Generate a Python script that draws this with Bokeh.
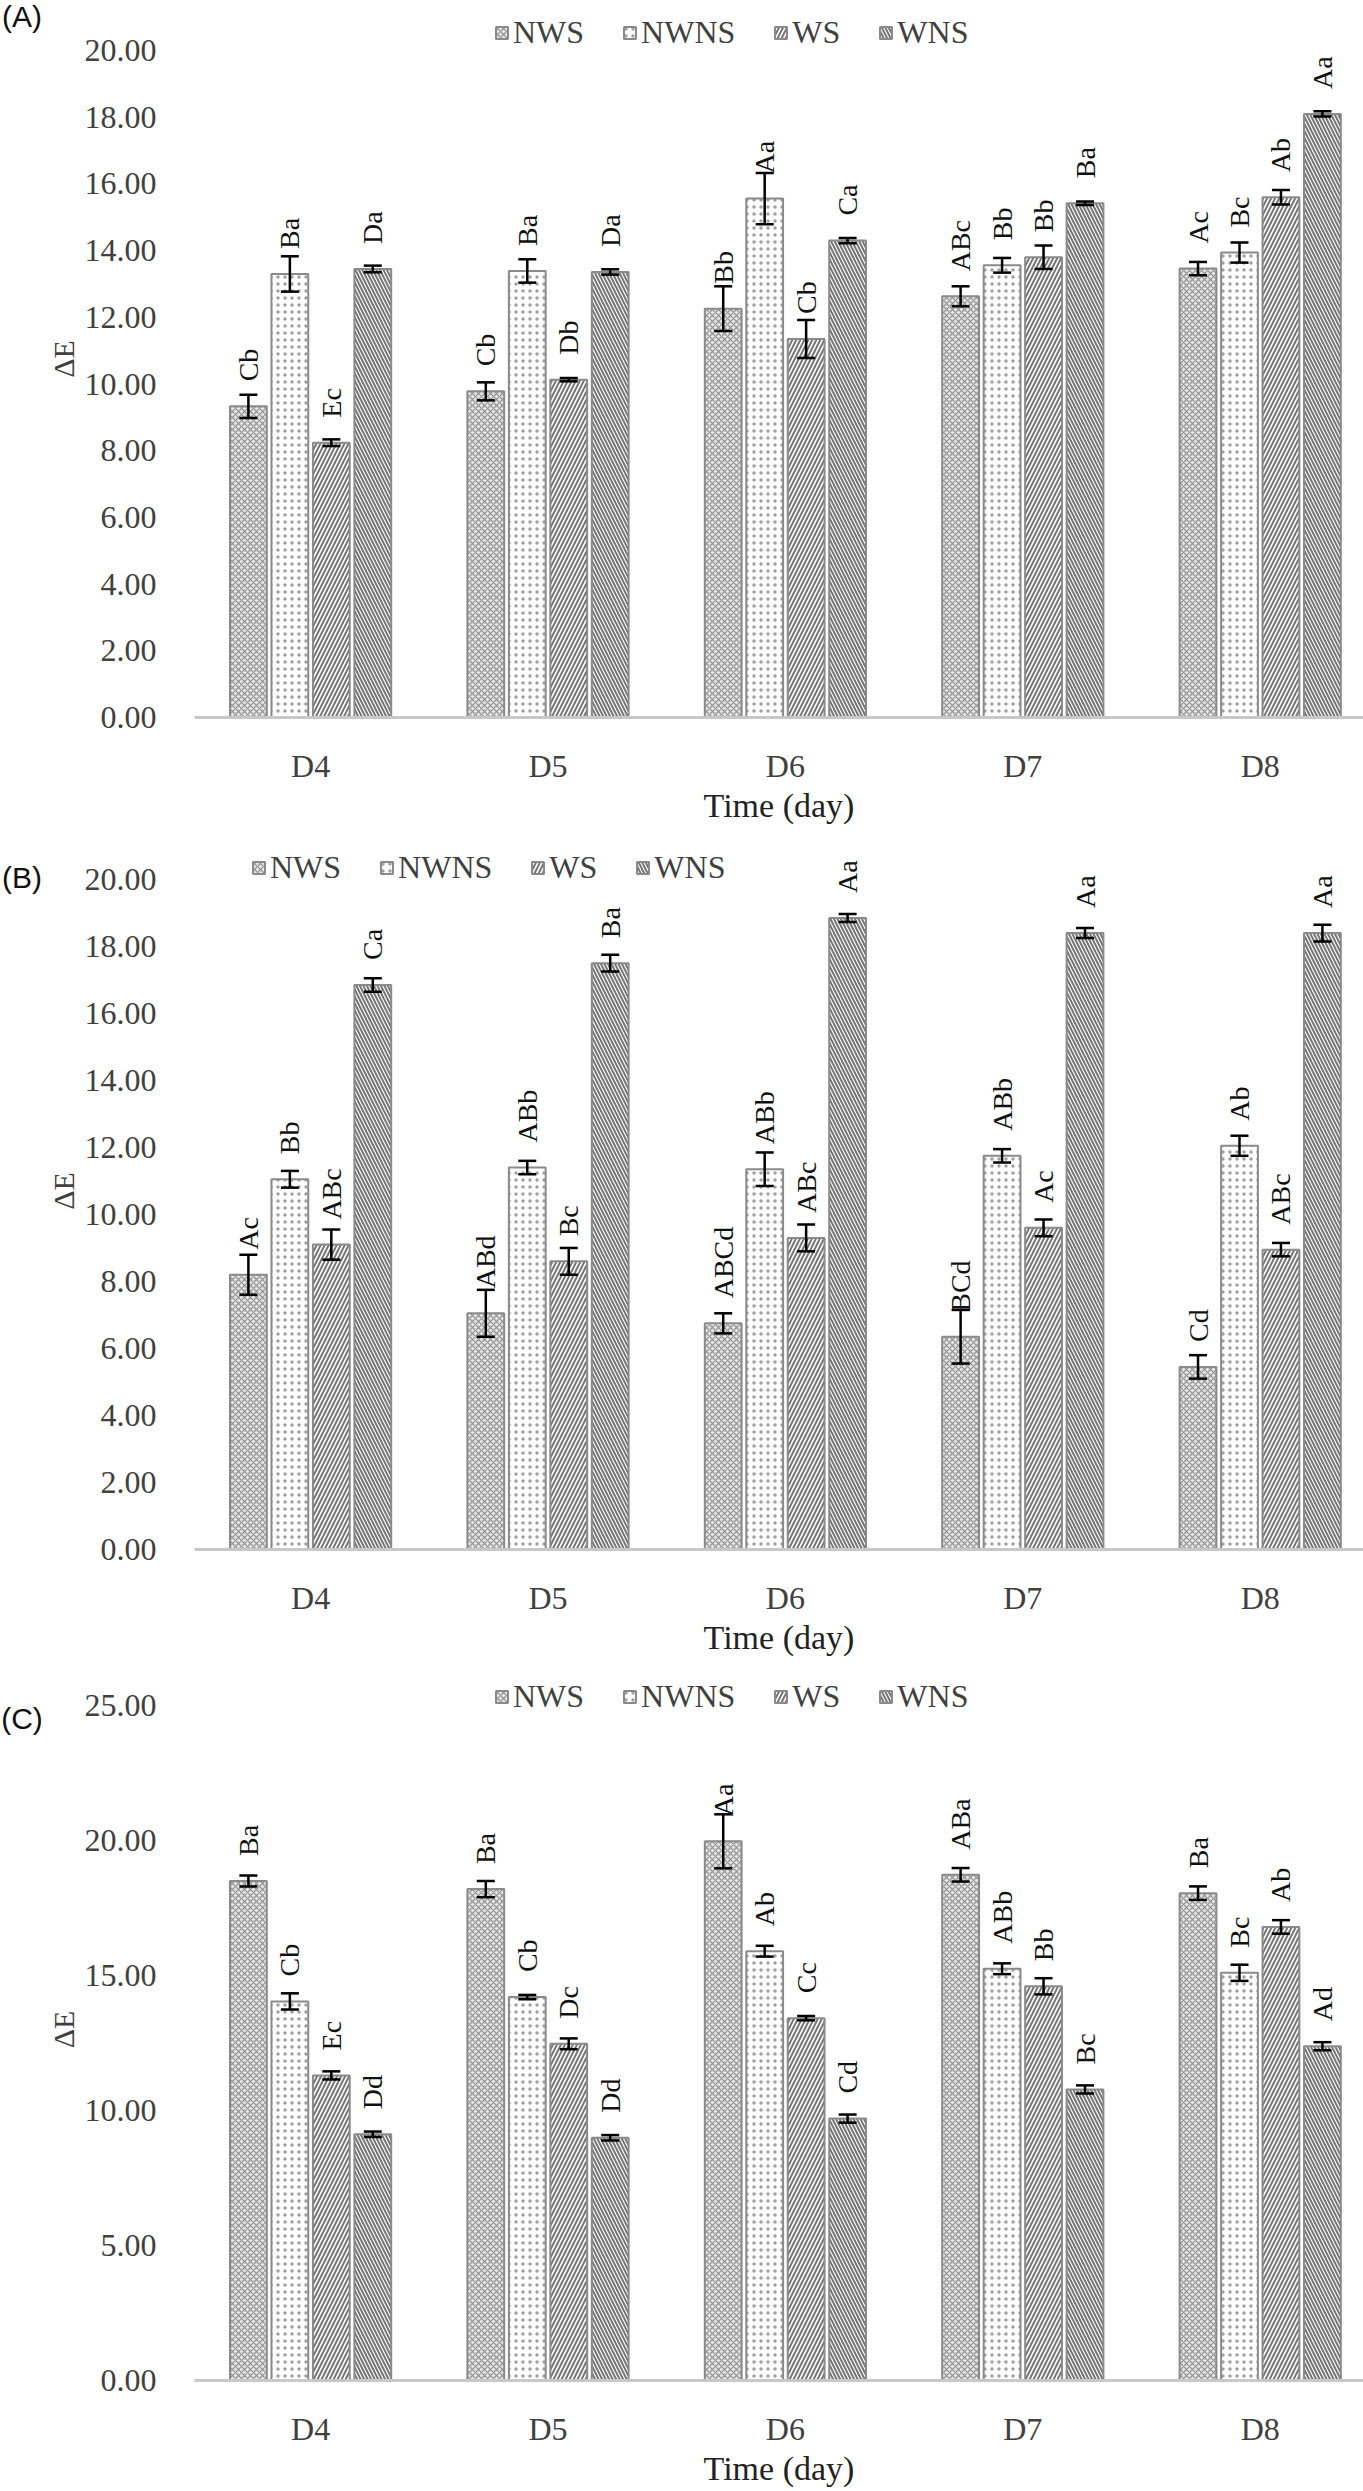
import numpy as np
from bokeh.plotting import figure
from bokeh.models import (ColumnDataSource, Range1d, FixedTicker, NumeralTickFormatter,
                          Whisker, TeeHead, Legend, LegendItem)
from bokeh.layouts import column, row
from bokeh.core.properties import value
from bokeh.embed import file_html
from bokeh.resources import INLINE

categories = ["D4", "D5", "D6", "D7", "D8"]
series_names = ["NWS", "NWNS", "WS", "WNS"]
panel_tags = ["(A)", "(B)", "(C)"]

# ---- Panel A ----
a_nws = [9.33, 9.78, 12.26, 12.63, 13.46]
a_nwns = [13.30, 13.39, 15.56, 13.56, 13.94]
a_ws = [8.24, 10.13, 11.35, 13.80, 15.60]
a_wns = [13.45, 13.36, 14.30, 15.42, 18.10]
a_nws_err = [0.35, 0.27, 0.67, 0.30, 0.20]
a_nwns_err = [0.53, 0.35, 0.77, 0.22, 0.30]
a_ws_err = [0.10, 0.05, 0.57, 0.35, 0.22]
a_wns_err = [0.10, 0.08, 0.08, 0.05, 0.08]
a_nws_lbl = ["Cb", "Cb", "Bb", "ABc", "Ac"]
a_nwns_lbl = ["Ba", "Ba", "Aa", "Bb", "Bc"]
a_ws_lbl = ["Ec", "Db", "Cb", "Bb", "Ab"]
a_wns_lbl = ["Da", "Da", "Ca", "Ba", "Aa"]

# ---- Panel B ----
b_nws = [8.20, 7.05, 6.75, 6.35, 5.45]
b_nwns = [11.05, 11.40, 11.35, 11.75, 12.05]
b_ws = [9.10, 8.60, 9.30, 9.60, 8.95]
b_wns = [16.85, 17.50, 18.85, 18.40, 18.40]
b_nws_err = [0.60, 0.70, 0.30, 0.80, 0.35]
b_nwns_err = [0.25, 0.20, 0.50, 0.20, 0.30]
b_ws_err = [0.45, 0.40, 0.40, 0.25, 0.20]
b_wns_err = [0.20, 0.25, 0.12, 0.15, 0.25]
b_nws_lbl = ["Ac", "ABd", "ABCd", "BCd", "Cd"]
b_nwns_lbl = ["Bb", "ABb", "ABb", "ABb", "Ab"]
b_ws_lbl = ["ABc", "Bc", "ABc", "Ac", "ABc"]
b_wns_lbl = ["Ca", "Ba", "Aa", "Aa", "Aa"]

# ---- Panel C ----
c_nws = [18.50, 18.20, 19.97, 18.73, 18.05]
c_nwns = [14.04, 14.20, 15.90, 15.25, 15.10]
c_ws = [11.30, 12.47, 13.42, 14.60, 16.80]
c_wns = [9.12, 8.99, 9.70, 10.78, 12.38]
c_nws_err = [0.20, 0.30, 1.00, 0.25, 0.25]
c_nwns_err = [0.30, 0.08, 0.20, 0.20, 0.30]
c_ws_err = [0.15, 0.20, 0.08, 0.30, 0.25]
c_wns_err = [0.10, 0.10, 0.15, 0.15, 0.15]
c_nws_lbl = ["Ba", "Ba", "Aa", "ABa", "Ba"]
c_nwns_lbl = ["Cb", "Cb", "Ab", "ABb", "Bc"]
c_ws_lbl = ["Ec", "Dc", "Cc", "Bb", "Ab"]
c_wns_lbl = ["Dd", "Dd", "Cd", "Bc", "Ad"]

SERIF = "Liberation Serif"
TXT = "#404040"

styles = [
    dict(fill_color="#e4e4e4", hatch_pattern="diagonal_cross", hatch_color="#8f8f8f",
         hatch_scale=6, hatch_weight=1.2),
    dict(fill_color="#ffffff", hatch_pattern="dot", hatch_color="#a0a0a0",
         hatch_scale=7, hatch_weight=1.5),
    dict(fill_color="#ffffff", hatch_pattern="right_diagonal_line", hatch_color="#767676",
         hatch_scale=8, hatch_weight=2),
    dict(fill_color="#ffffff", hatch_pattern="left_diagonal_line", hatch_color="#767676",
         hatch_scale=7, hatch_weight=2),
]
offsets = [-0.262, -0.0873, 0.0873, 0.262]

TAG_W = 43
MAIN_W = 1363 - TAG_W
X0, X1 = -0.489, 4.435


def make_tag(tag, height, tag_y):
    t = figure(width=TAG_W, height=height, x_range=Range1d(0, TAG_W),
               y_range=Range1d(height, 0), output_backend="svg",
               toolbar_location=None, min_border=0)
    t.axis.visible = False
    t.grid.visible = False
    t.outline_line_color = None
    t.text(x=[TAG_W / 2], y=[tag_y], text=[tag], text_align="center",
           text_baseline="middle", text_font=value("Liberation Sans"),
           text_font_size="30px", text_color="#111111")
    return t


def make_panel(means, errs, lbls, tick_max, tick_step, y_end, height,
               b_top, b_bottom, leg_loc):
    p = figure(width=MAIN_W, height=height,
               x_range=Range1d(X0, X1), y_range=Range1d(0, y_end),
               output_backend="svg", toolbar_location=None,
               min_border_left=185 - TAG_W, min_border_right=0,
               min_border_top=b_top, min_border_bottom=b_bottom)
    p.outline_line_color = None
    p.xgrid.visible = False
    p.ygrid.visible = False
    p.background_fill_color = "white"

    idx = np.arange(len(categories))
    items = []
    for k, (m, e, l) in enumerate(zip(means, errs, lbls)):
        m = np.asarray(m, dtype=float)
        e = np.asarray(e, dtype=float)
        src = ColumnDataSource(dict(x=idx + offsets[k], top=m, upper=m + e,
                                    lower=m - e, lbl=l))
        r = p.vbar(x="x", top="top", bottom=0, width=0.155, source=src,
                   line_color="#8a8a8a", line_width=2, **styles[k])
        w = Whisker(source=src, base="x", upper="upper", lower="lower",
                    line_color="black", line_width=2.5, level="overlay",
                    upper_head=TeeHead(size=18, line_color="black", line_width=2.5),
                    lower_head=TeeHead(size=18, line_color="black", line_width=2.5))
        p.add_layout(w)
        p.text(x="x", y="top", text="lbl", source=src, angle=np.pi / 2,
               text_align="left", text_baseline="middle", y_offset=-25,
               text_font=value(SERIF), text_font_size="28px", text_color="#111111")
        items.append(LegendItem(label=series_names[k], renderers=[r]))

    leg = Legend(items=items, orientation="horizontal", location=leg_loc,
                 glyph_width=15, glyph_height=15, label_standoff=4, spacing=38,
                 padding=0, margin=0, border_line_color=None,
                 background_fill_alpha=0,
                 label_text_font=SERIF, label_text_font_size="32px",
                 label_text_color=TXT)
    p.add_layout(leg, "center")

    # x axis
    xa = p.xaxis[0]
    xa.ticker = FixedTicker(ticks=list(range(len(categories))))
    xa.major_label_overrides = {i: c for i, c in enumerate(categories)}
    xa.major_tick_line_color = None
    xa.minor_tick_line_color = None
    xa.axis_line_color = "#c8c8c8"
    xa.axis_line_width = 3
    xa.major_label_standoff = 24
    xa.major_label_text_font = SERIF
    xa.major_label_text_font_size = "32px"
    xa.major_label_text_color = TXT
    xa.axis_label = "Time (day)"
    xa.axis_label_standoff = 0
    xa.axis_label_text_font = SERIF
    xa.axis_label_text_font_size = "34px"
    xa.axis_label_text_font_style = "normal"
    xa.axis_label_text_color = "#222222"

    # y axis
    ya = p.yaxis[0]
    ya.ticker = FixedTicker(ticks=list(np.arange(0, tick_max + 0.001, tick_step)))
    ya.formatter = NumeralTickFormatter(format="0.00")
    ya.axis_line_color = None
    ya.major_tick_line_color = None
    ya.minor_tick_line_color = None
    ya.major_label_standoff = 32
    ya.major_label_text_font = SERIF
    ya.major_label_text_font_size = "32px"
    ya.major_label_text_color = TXT
    ya.axis_label = "ΔE"
    ya.axis_label_standoff = 2
    ya.axis_label_text_font = SERIF
    ya.axis_label_text_font_size = "30px"
    ya.axis_label_text_font_style = "normal"
    ya.axis_label_text_color = TXT
    return p


HA, HB, HC = 826, 832, 831

pa = make_panel([a_nws, a_nwns, a_ws, a_wns],
                [a_nws_err, a_nwns_err, a_ws_err, a_wns_err],
                [a_nws_lbl, a_nwns_lbl, a_ws_lbl, a_wns_lbl],
                20, 2, 21.5, HA, 0, 99, (300, 666))
pb = make_panel([b_nws, b_nwns, b_ws, b_wns],
                [b_nws_err, b_nwns_err, b_ws_err, b_wns_err],
                [b_nws_lbl, b_nwns_lbl, b_ws_lbl, b_wns_lbl],
                20, 2, 21.4, HB, 6, 102, (57, 663))
pc = make_panel([c_nws, c_nwns, c_ws, c_wns],
                [c_nws_err, c_nwns_err, c_ws_err, c_wns_err],
                [c_nws_lbl, c_nwns_lbl, c_ws_lbl, c_wns_lbl],
                25, 5, 26.0, HC, 20, 108, (300, 665))

ta = make_tag(panel_tags[0], HA, 18)
tb = make_tag(panel_tags[1], HB, 52)
tc = make_tag(panel_tags[2], HC, 47)

layout = column(row(ta, pa, spacing=0), row(tb, pb, spacing=0),
                row(tc, pc, spacing=0), spacing=0)
open("out.html", "w").write(file_html(layout, INLINE))
